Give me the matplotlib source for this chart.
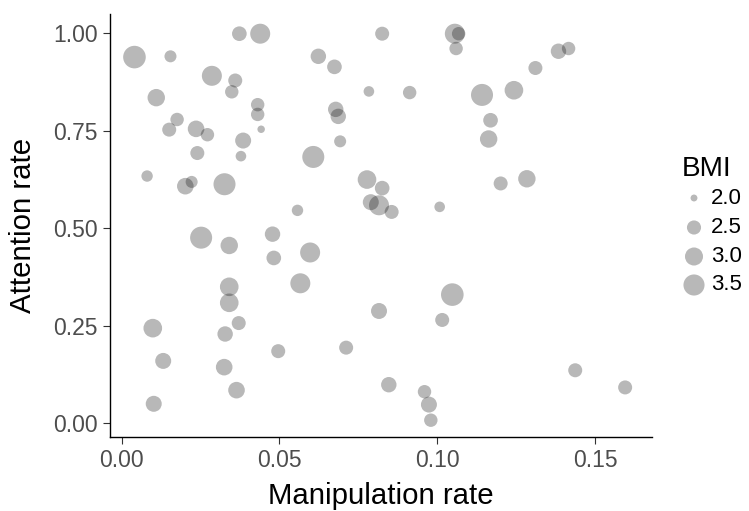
import numpy as np
import matplotlib
matplotlib.use("Agg")
import matplotlib.pyplot as plt

plt.rcParams['font.family'] = ['Liberation Sans', 'DejaVu Sans']

manipulation_rate = [
    0.0041, 0.0155, 0.0373, 0.0439, 0.0286, 0.0360, 0.0349, 0.0110, 0.0431, 0.0431,
    0.0176, 0.0151, 0.0236, 0.0272, 0.0442, 0.0385, 0.0240, 0.0378, 0.0607, 0.0692,
    0.0678, 0.0686, 0.0623, 0.0674, 0.0783, 0.0081, 0.0202, 0.0222, 0.0326, 0.0557,
    0.0825, 0.0777, 0.0825, 0.0789, 0.0815, 0.0855, 0.1055, 0.1067, 0.1059, 0.1383,
    0.1415, 0.1310, 0.0912, 0.1141, 0.1242, 0.1168, 0.1162, 0.1200, 0.1283, 0.1007,
    0.0252, 0.0341, 0.0478, 0.0482, 0.0597, 0.0566, 0.0341, 0.0341, 0.0371, 0.0328,
    0.0099, 0.0132, 0.0325, 0.0364, 0.0102, 0.0496, 0.0711, 0.0815, 0.1047, 0.1015,
    0.0846, 0.0959, 0.0973, 0.0979, 0.1436, 0.1594]

attention_rate = [
    0.939, 0.941, 0.999, 0.999, 0.891, 0.879, 0.850, 0.835, 0.817, 0.792,
    0.779, 0.753, 0.755, 0.740, 0.754, 0.725, 0.693, 0.685, 0.683, 0.723,
    0.805, 0.787, 0.941, 0.914, 0.851, 0.634, 0.608, 0.619, 0.613, 0.546,
    0.999, 0.625, 0.603, 0.567, 0.559, 0.542, 0.999, 0.999, 0.961, 0.954,
    0.961, 0.911, 0.848, 0.842, 0.854, 0.777, 0.729, 0.615, 0.627, 0.555,
    0.476, 0.456, 0.485, 0.424, 0.438, 0.359, 0.350, 0.309, 0.257, 0.229,
    0.244, 0.160, 0.144, 0.085, 0.050, 0.185, 0.194, 0.288, 0.330, 0.265,
    0.099, 0.081, 0.048, 0.008, 0.136, 0.092]

bmi = [
    3.78, 2.30, 2.56, 3.31, 3.31, 2.49, 2.43, 2.91, 2.43, 2.43,
    2.43, 2.49, 2.80, 2.43, 2.02, 2.72, 2.49, 2.19, 3.67, 2.30,
    2.65, 2.65, 2.65, 2.56, 2.19, 2.25, 2.80, 2.30, 3.67, 2.25,
    2.49, 3.09, 2.56, 2.72, 3.31, 2.49, 3.31, 2.43, 2.43, 2.65,
    2.43, 2.49, 2.43, 3.67, 3.09, 2.56, 2.91, 2.49, 2.91, 2.19,
    3.67, 2.91, 2.65, 2.56, 3.31, 3.31, 3.09, 3.09, 2.49, 2.65,
    3.09, 2.72, 2.80, 2.80, 2.72, 2.49, 2.49, 2.72, 3.78, 2.49,
    2.65, 2.43, 2.72, 2.43, 2.49, 2.49]

x_ticks = [0.00, 0.05, 0.10, 0.15]
x_tick_labels = ["0.00", "0.05", "0.10", "0.15"]
y_ticks = [0.00, 0.25, 0.50, 0.75, 1.00]
y_tick_labels = ["0.00", "0.25", "0.50", "0.75", "1.00"]
bmi_breaks = [2.0, 2.5, 3.0, 3.5]
bmi_labels = ["2.0", "2.5", "3.0", "3.5"]

DPI = 100
W, H = 749, 511
BMIN, BMAX = 1.95, 3.8


def size_of(b):
    b = np.asarray(b, dtype=float)
    t = np.clip((b - BMIN) / (BMAX - BMIN), 0, 1)
    d_px = 3.8 + 18.9 * np.sqrt(t)
    d_pt = d_px * 72.0 / DPI
    return d_pt ** 2


fig = plt.figure(figsize=(W / DPI, H / DPI), dpi=DPI)
fig.patch.set_facecolor("white")

ax_left, ax_right, ax_top, ax_bottom = 110, 652, 14, 437
ax = fig.add_axes([ax_left / W, 1 - ax_bottom / H,
                   (ax_right - ax_left) / W, (ax_bottom - ax_top) / H])
ax.scatter(manipulation_rate, attention_rate, s=size_of(bmi),
           color="black", alpha=0.28, linewidths=0)

ax.set_xlim(-0.00364, 0.1679)
ax.set_ylim(-0.0351, 1.0495)
ax.set_xticks(x_ticks)
ax.set_xticklabels(x_tick_labels)
ax.set_yticks(y_ticks)
ax.set_yticklabels(y_tick_labels)

for side in ["top", "right"]:
    ax.spines[side].set_visible(False)
for side in ["left", "bottom"]:
    ax.spines[side].set_linewidth(1.0)
    ax.spines[side].set_color("black")

ax.tick_params(axis="both", direction="out", length=5, width=0.8,
               color="#333333", labelcolor="#4D4D4D", labelsize=16.5)
ax.tick_params(axis="x", pad=3.5)
ax.tick_params(axis="y", pad=4)

# axis titles
fig.text((ax_left + ax_right) / 2 / W, 1 - 503.5 / H, "Manipulation rate",
         fontsize=21.2, color="black", ha="center", va="baseline")
fig.text(23.4 / W, 1 - (ax_top + ax_bottom) / 2 / H, "Attention rate",
         fontsize=21.2, color="black", ha="center", va="center", rotation=90)

# legend
lax = fig.add_axes([0, 0, 1, 1], facecolor="none")
lax.set_xlim(0, W)
lax.set_ylim(H, 0)
lax.axis("off")
lax.text(682, 176.5, "BMI", fontsize=20.2, color="black", va="baseline", ha="left")
key_y = [198, 227.5, 256.5, 285]
lax.scatter([694] * len(bmi_breaks), key_y, s=size_of(bmi_breaks),
            color="black", alpha=0.28, linewidths=0)
for yy, lab in zip(key_y, bmi_labels):
    lax.text(711, yy, lab, fontsize=16, color="black", va="center", ha="left")

fig.savefig("out.png", dpi=DPI)
